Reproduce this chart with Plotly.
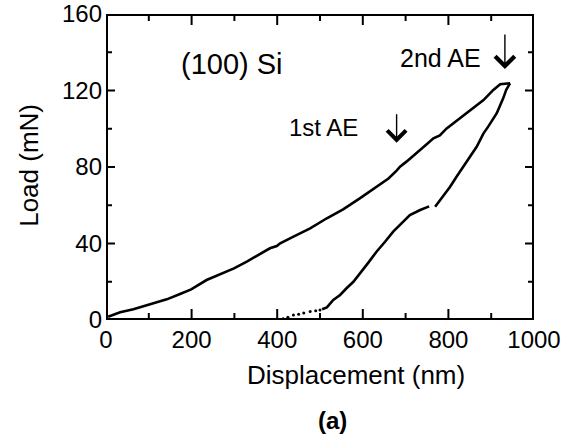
import plotly.graph_objects as go

# Loading curve (displacement nm, load mN)
load_x = [5, 33, 64, 99, 142, 173, 199, 235, 266, 299, 329, 360, 383, 399, 407, 438, 477,
          516, 554, 593, 632, 660, 679, 687, 702, 726, 750, 765, 780, 796, 827, 858, 882,
          905, 921, 944]
load_y = [1.7, 4.0, 5.6, 7.8, 10.8, 13.6, 16.0, 20.9, 24.0, 27.0, 30.5, 34.5, 37.5, 38.7,
          40.1, 43.6, 47.9, 53.2, 57.9, 63.6, 69.4, 74.0, 78.1, 80.2, 82.8, 87.2, 92.0,
          95.0, 96.5, 100.2, 105.5, 110.7, 115.0, 120.3, 123.3, 123.8]

# Unloading curve, upper part (above the small gap)
unl1_x = [944, 940, 935, 928, 913, 893, 882, 866, 850, 835, 819, 804, 784, 769]
unl1_y = [123.8, 122.0, 120.3, 115.9, 108.1, 101.1, 97.6, 90.6, 85.4, 80.2, 74.9, 69.7,
          63.6, 59.2]

# Unloading curve, middle part
unl2_x = [755, 734, 710, 691, 671, 652, 632, 613, 593, 578, 562, 547, 531, 516, 505]
unl2_y = [59.4, 57.5, 54.9, 50.6, 46.2, 40.9, 35.7, 30.0, 24.4, 20.0, 16.6, 13.1, 10.5,
          6.6, 5.6]

# Unloading tail (sparse dots)
unl3_x = [500, 490, 477, 462, 450, 438, 425, 414, 405]
unl3_y = [5.2, 4.8, 4.4, 3.6, 3.0, 2.6, 1.5, 0.6, 0.3]

x_ticks = [0, 200, 400, 600, 800, 1000]
y_ticks = [0, 40, 80, 120, 160]
x_minor = [100, 300, 500, 700, 900]
y_minor = [20, 60, 100, 140]
x_range = [0, 1000]
y_range = [0, 160]

FONT = "Liberation Sans, Arial, sans-serif"
line = dict(color="black", width=2.6)

W, H = 568, 435
ML, MR, MT, MB = 106, 34, 14, 115
PW, PH = W - ML - MR, H - MT - MB

fig = go.Figure()
fig.add_trace(go.Scatter(x=load_x, y=load_y, mode="lines", line=line))
fig.add_trace(go.Scatter(x=unl1_x, y=unl1_y, mode="lines", line=line))
fig.add_trace(go.Scatter(x=unl2_x, y=unl2_y, mode="lines", line=line))
fig.add_trace(go.Scatter(x=unl3_x, y=unl3_y, mode="markers",
                         marker=dict(color="black", size=3)))

# Frame (box) drawn from the axis ranges; half of the wide line is clipped away
x0, x1 = x_range
y0, y1 = y_range
fig.add_trace(go.Scatter(x=[x0, x1, x1, x0, x0], y=[y0, y0, y1, y1, y0], mode="lines",
                         line=dict(color="black", width=4), hoverinfo="skip"))

# Inward ticks on all four sides, built from the tick arrays
xs_per_px = (x1 - x0) / PW
ys_per_px = (y1 - y0) / PH
tx, ty = [], []
for vals, ln in ((x_ticks, 11), (x_minor, 7)):
    for v in vals:
        tx += [v, v, None, v, v, None]
        ty += [y0, y0 + ln * ys_per_px, None, y1, y1 - ln * ys_per_px, None]
for vals, ln in ((y_ticks, 9), (y_minor, 6)):
    for v in vals:
        tx += [x0, x0 + ln * xs_per_px, None, x1, x1 - ln * xs_per_px, None]
        ty += [v, v, None, v, v, None]
fig.add_trace(go.Scatter(x=tx, y=ty, mode="lines", line=dict(color="black", width=2),
                         hoverinfo="skip"))

axis_common = dict(showline=False, ticks="", showgrid=False, zeroline=False,
                   automargin=False, ticklabelstandoff=3,
                   tickfont=dict(family=FONT, size=24, color="black"))
fig.update_xaxes(range=x_range, tickvals=x_ticks, **axis_common)
fig.update_yaxes(range=y_range, tickvals=y_ticks, **axis_common)

ann = []
ann.append(dict(x=0.584, y=-0.18, xref="paper", yref="paper", text="Displacement (nm)",
                xanchor="center", yanchor="middle",
                showarrow=False, font=dict(family=FONT, size=26, color="black")))
ann.append(dict(x=0.530, y=-0.33, xref="paper", yref="paper", text="<b>(a)</b>",
                xanchor="center", yanchor="middle",
                showarrow=False, font=dict(family=FONT, size=24, color="black")))
ann.append(dict(x=-0.18, y=0.507, xref="paper", yref="paper", text="Load (mN)",
                xanchor="center", yanchor="middle",
                textangle=-90, showarrow=False, font=dict(family=FONT, size=26, color="black")))
ann.append(dict(x=294, y=133.9, text="(100) Si", showarrow=False,
                font=dict(family=FONT, size=29, color="black")))
ann.append(dict(x=507, y=100.9, text="1st AE", showarrow=False,
                font=dict(family=FONT, size=24, color="black")))
ann.append(dict(x=781, y=137, text="2nd AE", showarrow=False,
                font=dict(family=FONT, size=25, color="black")))
# arrows
ann.append(dict(x=679, y=92.7, text="", showarrow=True, ax=0, ay=-30, arrowhead=4,
                arrowsize=2.6, arrowwidth=1.4, arrowcolor="black", standoff=0))
ann.append(dict(x=932, y=131.2, text="", showarrow=True, ax=0, ay=-36, arrowhead=4,
                arrowsize=2.7, arrowwidth=1.4, arrowcolor="black", standoff=0))

fig.update_layout(width=W, height=H, margin=dict(l=ML, r=MR, t=MT, b=MB),
                  plot_bgcolor="white", paper_bgcolor="white", showlegend=False,
                  annotations=ann)

fig.write_html("out.html")
